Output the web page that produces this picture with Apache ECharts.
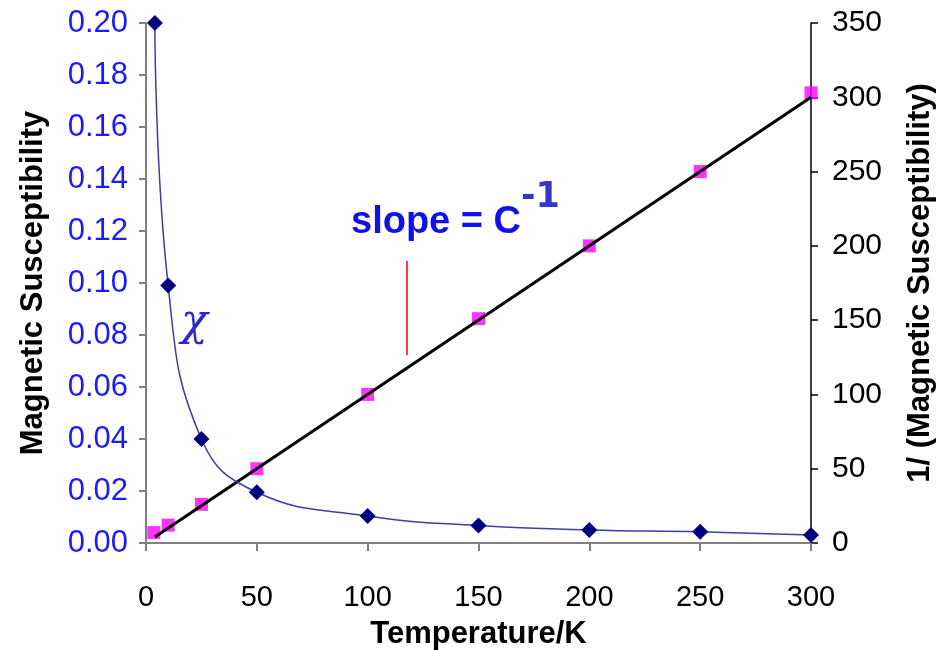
<!DOCTYPE html>
<html>
<head>
<meta charset="utf-8">
<script src="https://cdn.jsdelivr.net/npm/echarts@6/dist/echarts.min.js"></script>
<style>
html,body{margin:0;padding:0;background:#fff;}
#chart{width:950px;height:651px;}
</style>
</head>
<body>
<div id="chart"></div>
<script>
// Temperature (K) of each measurement
const temperatures = [4, 10, 25, 50, 100, 150, 200, 250, 300];
// Magnetic susceptibility (left axis)
const chiValues = [0.200, 0.099, 0.040, 0.0195, 0.0104, 0.0067, 0.0050, 0.0043, 0.0031];
// 1/(magnetic susceptibility) (right axis)
const invTemperatures = [3.5, 10, 25, 50, 100, 150, 200, 250, 300];
const invChiValues = [7, 12, 26, 50, 100, 151, 200, 250, 303];
// Fitted straight line (right axis)
const fitT = [4, 300];
const fitInv = [4, 300];
// Tick labels
const leftTicks = ['0.00','0.02','0.04','0.06','0.08','0.10','0.12','0.14','0.16','0.18','0.20'];

const chart = echarts.init(document.getElementById('chart'), null, {renderer: 'canvas'});
const font = 'Liberation Sans, Arial, sans-serif';

const option = {
  animation: false,
  backgroundColor: '#ffffff',
  grid: {left: 146, right: 139, top: 23, bottom: 108, containLabel: false, outerBoundsMode: 'none'},
  xAxis: {
    type: 'value', min: 0, max: 300, interval: 50,
    name: 'Temperature/K', nameLocation: 'middle', nameGap: 76,
    nameTextStyle: {fontFamily: font, fontWeight: 'bold', fontSize: 31, color: '#000'},
    axisLine: {show: true, onZero: false, lineStyle: {color: '#808080', width: 2}},
    axisTick: {show: true, inside: false, length: 8, lineStyle: {color: '#808080', width: 2}},
    axisLabel: {fontFamily: font, fontSize: 29, color: '#000', margin: 40},
    splitLine: {show: false}
  },
  yAxis: [
    {
      type: 'value', min: 0, max: 0.2, interval: 0.02, position: 'left',
      name: 'Magnetic Susceptibility', nameLocation: 'middle', nameGap: 97,
      nameTextStyle: {fontFamily: font, fontWeight: 'bold', fontSize: 31, color: '#000'},
      axisLine: {show: true, onZero: false, lineStyle: {color: '#808080', width: 2}},
      axisTick: {show: true, inside: false, length: 7, lineStyle: {color: '#808080', width: 2}},
      axisLabel: {fontFamily: font, fontSize: 31, color: '#1a1aff', margin: 18,
        formatter: function (v) { return leftTicks[Math.round(v / 0.02)]; }},
      splitLine: {show: false}
    },
    {
      type: 'value', min: 0, max: 350, interval: 50, position: 'right',
      name: '1/ (Magnetic Susceptibility)', nameLocation: 'middle', nameGap: 94,
      nameTextStyle: {fontFamily: font, fontWeight: 'bold', fontSize: 31, color: '#000'},
      axisLine: {show: true, onZero: false, lineStyle: {color: '#000', width: 1.5}},
      axisTick: {show: true, inside: false, length: 7, lineStyle: {color: '#000', width: 1.5}},
      axisLabel: {fontFamily: font, fontSize: 30, color: '#000', margin: 21},
      splitLine: {show: false}
    }
  ],
  series: [
    {
      name: 'chi', type: 'line', yAxisIndex: 0,
      data: temperatures.map((t, i) => [t, chiValues[i]]),
      smooth: 0.45,
      symbol: 'diamond', symbolSize: 16, showSymbol: true,
      itemStyle: {color: '#000080'},
      lineStyle: {color: '#3d3da8', width: 1.5},
      z: 4
    },
    {
      name: 'inverse', type: 'scatter', yAxisIndex: 1,
      data: invTemperatures.map((t, i) => [t, invChiValues[i]]),
      symbol: 'rect', symbolSize: 13,
      itemStyle: {color: '#ff00ff'},
      z: 2
    },
    {
      name: 'fit', type: 'line', yAxisIndex: 1,
      data: fitT.map((t, i) => [t, fitInv[i]]),
      showSymbol: false, symbol: 'none',
      lineStyle: {color: '#000', width: 3},
      z: 3
    }
  ],
  graphic: [
    {type: 'text', left: 351, top: 204,
      style: {text: 'slope = C', fontFamily: font, fontWeight: 'bold', fontSize: 38, fill: '#1010e8'}},
    {type: 'text', left: 521, top: 180,
      style: {text: '-1', fontFamily: 'DejaVu Sans, sans-serif', fontWeight: 'bold', fontSize: 35, fill: '#3535c8'}},
    {type: 'text', left: 181, top: 302,
      style: {text: 'χ', fontFamily: 'DejaVu Serif, serif', fontStyle: 'italic', fontSize: 44, fill: '#2a2ad0'}},
    {type: 'line', shape: {x1: 407, y1: 261, x2: 407, y2: 355},
      style: {stroke: '#ff3b3b', lineWidth: 2}}
  ]
};
chart.setOption(option);
</script>
</body>
</html>
